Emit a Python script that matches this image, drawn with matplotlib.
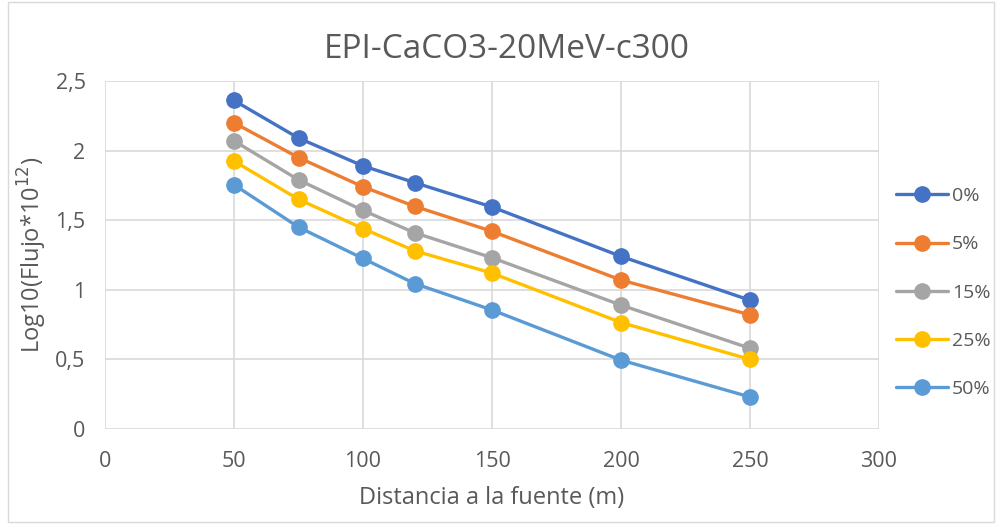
import matplotlib
matplotlib.use("Agg")
import matplotlib.pyplot as plt
from matplotlib.patches import Rectangle

x = [50, 75, 100, 120, 150, 200, 250]
s0 = [2.36, 2.09, 1.89, 1.77, 1.595, 1.24, 0.925]
s5 = [2.20, 1.95, 1.74, 1.60, 1.42, 1.07, 0.82]
s15 = [2.07, 1.79, 1.57, 1.41, 1.23, 0.89, 0.58]
s25 = [1.925, 1.65, 1.44, 1.28, 1.12, 0.765, 0.50]
s50 = [1.755, 1.45, 1.225, 1.045, 0.855, 0.495, 0.23]
labels = ["0%", "5%", "15%", "25%", "50%"]
colors = ["#4472C4", "#ED7D31", "#A5A5A5", "#FFC000", "#5B9BD5"]
xticks = [0, 50, 100, 150, 200, 250, 300]
yticks = [0, 0.5, 1, 1.5, 2, 2.5]
yticklabels = ["0", "0,5", "1", "1,5", "2", "2,5"]

plt.rcParams['font.family'] = ['Open Sans', 'DejaVu Sans']
txtcol = "#595959"

fig = plt.figure(figsize=(9.96, 5.24), dpi=100)
ax = fig.add_axes([105/996, 1-429/524, (879-105)/996, (429-81)/524])

for ys, lab, c in zip([s0, s5, s15, s25, s50], labels, colors):
    ax.plot(x, ys, color=c, lw=2.4, marker='o', ms=11, label=lab, solid_capstyle='round')

ax.set_xlim(0, 300)
ax.set_ylim(0, 2.5)
ax.set_xticks(xticks)
ax.set_yticks(yticks)
ax.set_yticklabels(yticklabels)
ax.grid(True, color="#d9d9d9", lw=1.2)
ax.set_axisbelow(True)
for sp in ax.spines.values():
    sp.set_visible(False)
ax.tick_params(length=0, labelsize=15.5, colors=txtcol)
ax.tick_params(axis='y', pad=14)
ax.tick_params(axis='x', pad=16)
ax.set_xlabel("Distancia a la fuente (m)", fontsize=17, color=txtcol)
ax.set_ylabel("Log10(Flujo*10$^{12}$)", fontsize=17, color=txtcol)
ax.xaxis.set_label_coords(0.5, -0.164)
ax.yaxis.set_label_coords(-0.072, 0.5)
fig.text(507/996, 1-50/524, "EPI-CaCO3-20MeV-c300", fontsize=24, color=txtcol,
         ha='center', va='center')

leg = ax.legend(loc='upper left', bbox_to_anchor=(0.999, 0.745), frameon=False,
                fontsize=14, labelspacing=1.55, handlelength=2.7, handletextpad=0.2,
                labelcolor=txtcol)

fig.patches.append(Rectangle((8/996, 2/524), 986/996, 520/524, transform=fig.transFigure,
                             fill=False, edgecolor="#d9d9d9", lw=1))

fig.savefig("out.png", dpi=100)
